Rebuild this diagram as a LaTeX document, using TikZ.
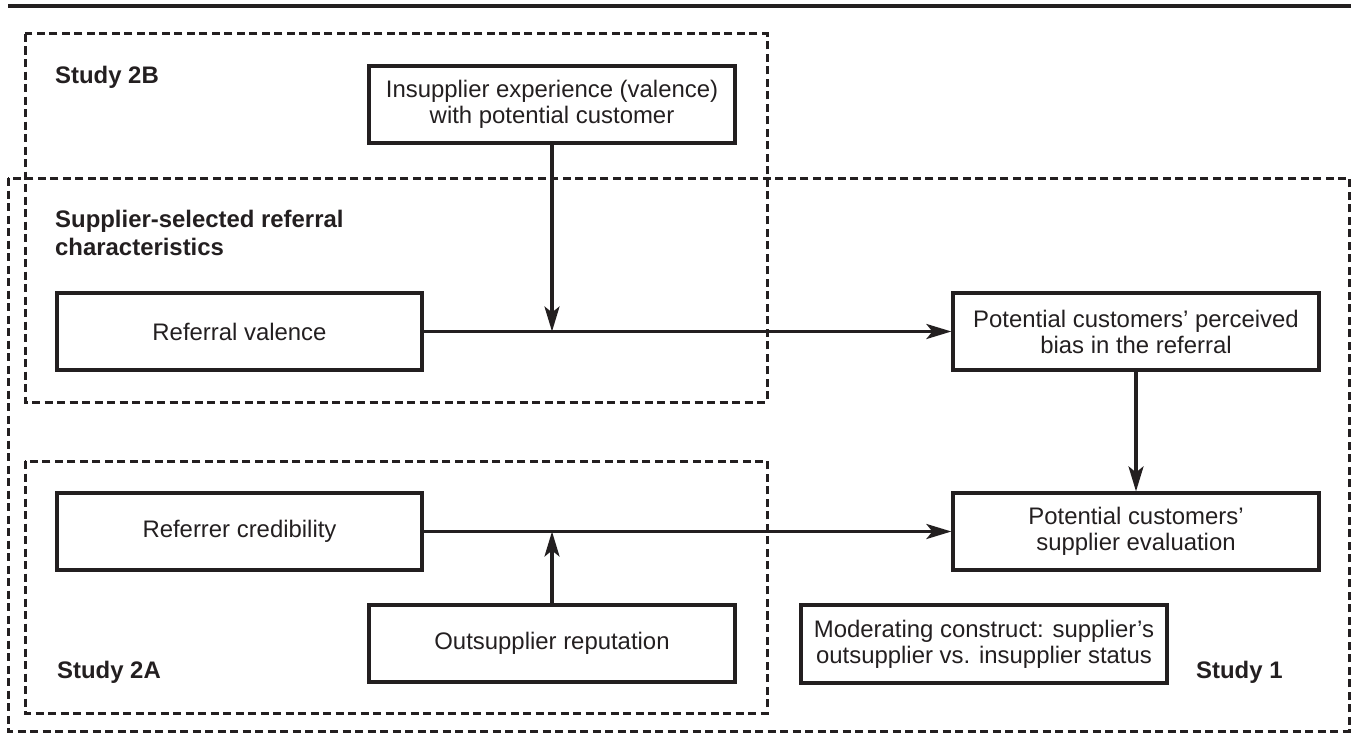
\documentclass[tikz,border=0pt]{standalone}
\usepackage{fontspec}
\setmainfont{Liberation Sans}
\usetikzlibrary{arrows.meta}
\definecolor{ink}{HTML}{231F20}
\begin{document}
\begin{tikzpicture}[x=1bp,y=-1bp,
  box/.style={draw=ink, line width=3.2bp, minimum width=366bp, minimum height=77bp, inner sep=0pt, align=center, font=\fontsize{24}{26}\selectfont, text=ink},
  study/.style={draw=ink, line width=3bp, dash pattern=on 8bp off 4.5bp},
  lbl/.style={font=\fontsize{24}{28}\selectfont\bfseries, text=ink, inner sep=0pt, align=left},
  conn/.style={draw=ink, line width=3.2bp},
  arr/.style={conn, -{Stealth[length=25bp,width=15bp,inset=6bp]}}
]
\useasboundingbox (0,0) rectangle (1351,752);
% top rule
\draw[ink, line width=3.5bp] (8,6) -- (1351,6);
% study frames
\draw[study] (25,34) rectangle (767,402);
\draw[study] (8,178) rectangle (1349,731);
\draw[study] (25,461) rectangle (767,713);
% boxes
\node[box] (ins) at (552,104.5) {Insupplier experience (valence)\\with potential customer};
\node[box, minimum width=365bp] (rv) at (239.5,331.5) {Referral valence};
\node[box] (bias) at (1136,331.5) {Potential customers' perceived\\bias in the referral};
\node[box] (eval) at (1136,531.5) {Potential customers'\\supplier evaluation};
\node[box, minimum width=365bp] (rc) at (239.5,531.5) {Referrer credibility};
\node[box] (out) at (552,643.5) {Outsupplier reputation};
\node[box, minimum height=78bp] (mod) at (984,644) {Moderating construct: supplier's\\outsupplier vs. insupplier status};
% labels
\node[lbl, anchor=base west] (s2b) at (55,83) {Study 2B};
\node[lbl, anchor=north west] (ssr) at (55,210) {Supplier-selected referral\\characteristics};
\node[lbl, anchor=base west] (s2a) at (57,678) {Study 2A};
\node[lbl, anchor=base west] (s1) at (1196,678) {Study 1};
% connectors
\draw[arr] (rv.east) -- (bias.west);
\draw[arr] (ins.south) -- (ins.south |- rv.east);
\draw[arr] (bias.south) -- (eval.north);
\draw[arr] (rc.east) -- (eval.west);
\draw[arr] (out.north) -- (out.north |- rc.east);
\end{tikzpicture}
\end{document}
